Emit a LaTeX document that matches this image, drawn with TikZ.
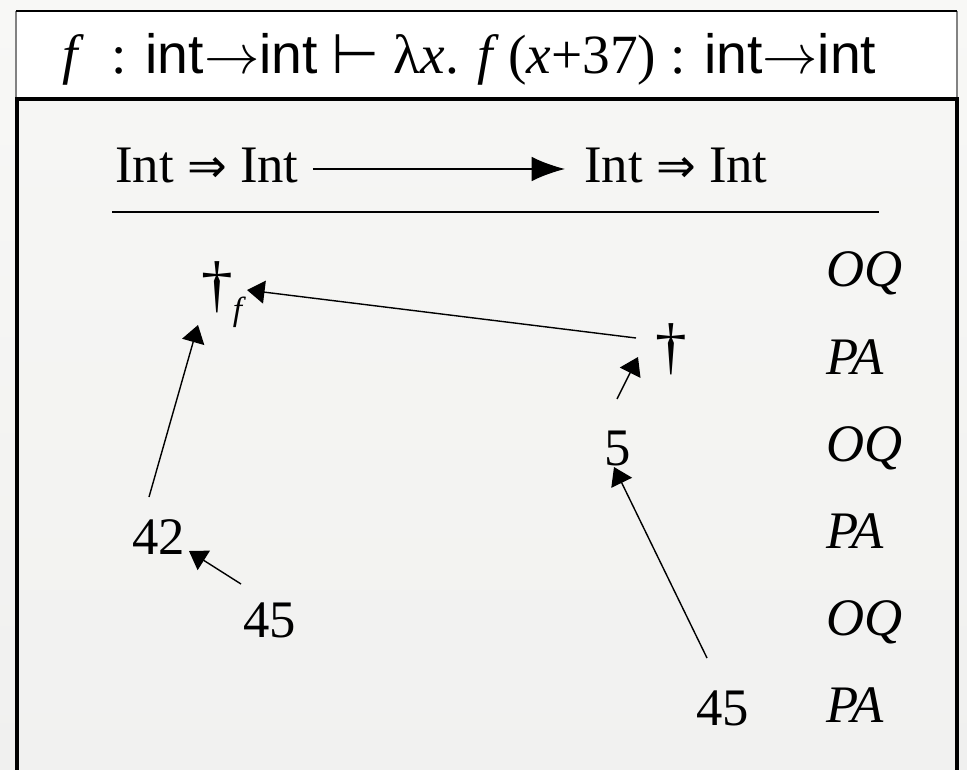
\documentclass[tikz,border=0pt]{standalone}
\usepackage{fix-cm}
\usepackage{fontspec}
\setmainfont{Liberation Serif}
\setsansfont{Liberation Sans}
\newfontfamily\symfont{DejaVu Sans}
\usetikzlibrary{arrows.meta}
\definecolor{pagetop}{RGB}{248,248,246}
\definecolor{pagebot}{RGB}{240,240,239}
\definecolor{paneltop}{RGB}{246,246,244}
\definecolor{panelbot}{RGB}{241,241,240}
\definecolor{edgegray}{RGB}{130,130,130}
\newcommand{\ty}[1]{\textsf{#1}}
\newcommand{\fun}{$\rightarrow$}
\newcommand{\dimp}{{\symfont\fontsize{27}{27}\selectfont ⇒}}

\begin{document}
\begin{tikzpicture}[x=0.02cm,y=-0.02cm,
  lbl/.style={inner sep=0pt,anchor=base west,font=\fontsize{30}{36}\selectfont},
  move/.style={line width=0.8pt,-{Triangle[length=10pt,width=13pt]}},
  bigarrow/.style={line width=1pt,-{Latex[length=19pt,width=14pt]}}]
  \useasboundingbox (0,0) rectangle (967,770);
  \shade[top color=pagetop,bottom color=pagebot] (0,0) rectangle (967,770);
  % header with the typing judgement
  \fill[white] (16,11) rectangle (957,99);
  \draw[edgegray,line width=1pt] (16,99) -- (16,11);
  \draw[edgegray,line width=1pt] (957,99) -- (957,11);
  \draw[line width=0.8pt] (16,11) -- (957,11);
  \node[lbl,font=\fontsize{31.5}{36}\selectfont] (hdr) at (62,74) {\textit{f}\ \ : \ty{int}\fun\ty{int} {\symfont ⊢} λ\textit{x}. \textit{f}\,(\textit{x}+37) : \ty{int}\fun\ty{int}};
  % panel with the strategy
  \shade[top color=paneltop,bottom color=panelbot] (17,99) rectangle (957,800);
  \draw[line width=1.8pt] (17,800) -- (17,99) -- (957,99) -- (957,800);
  \node[lbl] (lhs) at (115,183) {Int \dimp\ Int};
  \node[lbl] (rhs) at (584,183) {Int \dimp\ Int};
  \draw[bigarrow] ([shift={(14,-14)}]lhs.base east) -- ([shift={(-19,-14)}]rhs.base west);
  \draw[line width=1.1pt] (112,212) -- (879,212);
  % moves
  \node[lbl] (dagf) at (201,305) {{\fontsize{36}{36}\selectfont †}\raisebox{-0.3em}{\fontsize{19}{19}\selectfont\itshape f}};
  \node[lbl] (dag) at (655,367) {\fontsize{36}{36}\selectfont †};
  \node[lbl] (five) at (604,465) {5};
  \node[lbl] (n42) at (132,554) {42};
  \node[lbl] (l45) at (243,637) {45};
  \node[lbl] (r45) at (696,725) {45};
  \foreach \pol/\y [count=\i] in {OQ/287,PA/374,OQ/461,PA/548,OQ/635,PA/722}
    \node[lbl,font=\fontsize{30}{36}\selectfont\itshape] (pol\i) at (826,\y) {\pol};
  % justification pointers
  \draw[move] ([shift={(-19,-29)}]dag.base west) -- ([shift={(46,-15)}]dagf.base west);
  \draw[move] ([shift={(13,-66)}]five.base west) -- ([shift={(-17,-10)}]dag.base west);
  \draw[move] ([shift={(17,-57)}]n42.base west) -- ([shift={(-3,20)}]dagf.base west);
  \draw[move] ([shift={(-2,-53)}]l45.base west) -- ([shift={(57,-3)}]n42.base west);
  \draw[move] ([shift={(11,-67)}]r45.base west) -- ([shift={(10,2)}]five.base west);
\end{tikzpicture}
\end{document}
